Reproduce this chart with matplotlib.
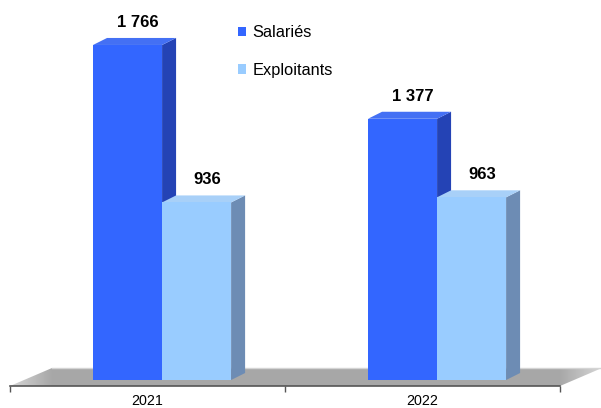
import numpy as np
import matplotlib.pyplot as plt
from matplotlib.patches import Polygon, Patch

plt.rcParams["font.family"] = ["Liberation Sans", "DejaVu Sans"]

years = ["2021", "2022"]
series_names = ["Salariés", "Exploitants"]
salaries = [1766, 1377]
exploitants = [936, 963]

# front, side and top face colours for each series
front_colors = ["#3366FF", "#99CCFF"]
side_colors = ["#2443B5", "#6D8CB4"]
top_colors = ["#4470F4", "#A8D0F8"]

W, H, DPI = 601, 408, 100
fig = plt.figure(figsize=(W / DPI, H / DPI), dpi=DPI)
ax = fig.add_axes([0, 22 / H, 1, 386 / H])
ax.set_xlim(-10 / 275, 591 / 275)
ax.set_ylim(-31.6, 2003)
for side in ["top", "left", "right"]:
    ax.spines[side].set_visible(False)
ax.spines["bottom"].set_bounds(0, 2)
ax.spines["bottom"].set_color("#555555")
ax.spines["bottom"].set_linewidth(1.2)
ax.spines["bottom"].set_zorder(6)
ax.set_yticks([])


def px_to_data(dx, dy):
    """Convert a pixel offset into data units of ax."""
    inv = ax.transData.inverted()
    x0, y0 = inv.transform((0, 0))
    x1, y1 = inv.transform((dx, dy))
    return x1 - x0, y1 - y0


# grey floor under the bars, lighter towards both tips
y0 = ax.get_ylim()[0]
fx, fy = px_to_data(42, 18)
floor = Polygon([(0, y0), (2, y0), (2 + fx, y0 + fy), (fx, y0 + fy)],
                closed=True, facecolor="none", edgecolor="none", zorder=1)
ax.add_patch(floor)
xs = np.linspace(0, 2 + fx, 600)
mid, light = 0.655, 0.84
gray = np.full_like(xs, mid)
left = xs < fx
gray[left] = light + (mid - light) * (xs[left] / fx)
right = xs > 2
gray[right] = mid + (light - mid) * ((xs[right] - 2) / fx)
img = np.repeat(gray[None, :, None], 3, axis=2)
im = ax.imshow(img, extent=(0, 2 + fx, y0, y0 + fy), aspect="auto",
               origin="lower", zorder=1, interpolation="bilinear")
im.set_clip_path(floor)
ax.set_xlim(-10 / 275, 591 / 275)
ax.set_ylim(-31.6, 2003)
ax.plot([fx, 2 + fx], [y0 + fy, y0 + fy], color="#d4d4d4", lw=1, zorder=1.5)

# bars: front faces from ax.bar, side and top faces from their geometry
x = np.arange(len(years)) + 0.5
width = 0.251
shift = 0.053
dx, dy = px_to_data(14, 7)
all_values = [salaries, exploitants]
offsets = [-width / 2, width / 2]
for k, values in enumerate(all_values):
    z = 2 + 2 * k
    bars = ax.bar(x + shift + offsets[k], values, width,
                  color=front_colors[k], zorder=z + 1)
    for rect, v in zip(bars, values):
        l = rect.get_x()
        r = l + rect.get_width()
        h = rect.get_height()
        ax.add_patch(Polygon([(r, 0), (r + dx, dy), (r + dx, h + dy), (r, h)],
                             facecolor=side_colors[k], edgecolor="none", zorder=z))
        ax.add_patch(Polygon([(l, h), (l + dx, h + dy), (r + dx, h + dy), (r, h)],
                             facecolor=top_colors[k], edgecolor="none", zorder=z))
        ax.annotate(f"{v:,}".replace(",", " "), xy=(l + width / 2, h),
                    xytext=(7.5, 13), textcoords="offset points",
                    ha="center", va="baseline", fontsize=12, fontweight="bold",
                    zorder=10)

# category ticks on the boundaries, year labels in between
ax.set_xticks([0, 1, 2])
ax.set_xticklabels([])
ax.tick_params(axis="x", which="major", length=4, width=1, color="#555555")
ax.set_xticks(x, minor=True)
ax.set_xticklabels(years, minor=True)
ax.tick_params(axis="x", which="minor", length=0, pad=5.5, labelsize=10.3)

handles = [Patch(facecolor=c, edgecolor="none") for c in front_colors]
ax.legend(handles, series_names, loc="upper left",
          bbox_to_anchor=(238 / W, 1 - 25 / H), bbox_transform=fig.transFigure,
          frameon=False, fontsize=11.8, handlelength=0.5, handleheight=0.5,
          handletextpad=0.4, labelspacing=1.4, borderpad=0, borderaxespad=0)

fig.savefig("out.png", dpi=DPI)
